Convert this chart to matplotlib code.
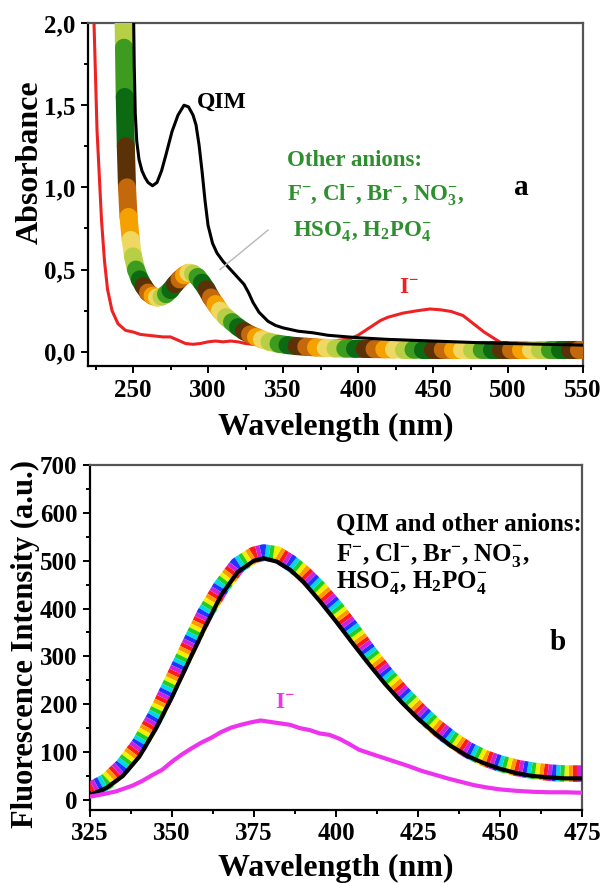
import matplotlib
matplotlib.use("Agg")
from matplotlib import pyplot as plt
from matplotlib.collections import LineCollection
from matplotlib.ticker import MultipleLocator, FixedLocator, FixedFormatter

# %% absorbance spectra (panel a)
qim_abs_x = [250.3, 250.8, 251.5, 252.5, 254, 256, 258, 260, 263, 266, 269, 272, 276, 280,
             284, 287, 290, 292, 294, 296, 298, 300, 303, 306, 310, 315, 320, 324, 327,
             330, 334, 340, 345, 350, 360, 370, 380, 400, 420, 450, 480, 500, 550]
qim_abs_y = [2.10, 1.75, 1.45, 1.28, 1.17, 1.10, 1.06, 1.03, 1.01, 1.03, 1.10, 1.20, 1.34, 1.44,
             1.50, 1.49, 1.44, 1.38, 1.26, 1.10, 0.92, 0.77, 0.66, 0.60, 0.55, 0.50, 0.45, 0.41, 0.36,
             0.30, 0.24, 0.185, 0.16, 0.145, 0.125, 0.115, 0.10, 0.085, 0.075, 0.065, 0.055, 0.05, 0.04]

iodide_abs_x = [222, 224, 226, 229, 231, 233, 236, 240, 245, 250, 255, 260, 265, 270, 275,
                280, 285, 290, 295, 300, 305, 310, 315, 320, 325, 330, 340, 360, 380, 395,
                400, 405, 410, 415, 420, 430, 440, 448, 455, 462, 470, 477, 484, 490, 496,
                500, 520, 550]
iodide_abs_y = [2.6, 2.0, 1.35, 0.80, 0.55, 0.38, 0.25, 0.17, 0.13, 0.12, 0.105, 0.10, 0.095,
                0.09, 0.09, 0.07, 0.05, 0.045, 0.05, 0.06, 0.065, 0.06, 0.065, 0.06, 0.05, 0.045,
                0.045, 0.05, 0.06, 0.08, 0.10, 0.13, 0.16, 0.19, 0.21, 0.235, 0.25, 0.26, 0.255,
                0.245, 0.22, 0.17, 0.12, 0.085, 0.05, 0.035, 0.03, 0.03]

# the six other anions overlap into one thick band
others_abs_x = [243.5, 244, 244.5, 245.2, 246, 247, 248.5, 250,
                252, 254.5, 257, 260, 263, 266, 269, 272, 275, 278, 281, 284, 287, 290, 293,
                296, 299, 302, 305, 308,
                312, 316, 320, 324, 328, 332, 336, 341, 347, 353,
                359, 365.5, 372, 378.5, 385, 391.5, 398, 404.5, 411, 417.5, 424, 430.5, 437,
                443.5, 450, 456.5, 463, 469.5, 476, 482.5, 489, 495.5, 502, 508.5, 515, 521.5,
                528, 534.5, 541, 547.5, 554]
others_abs_y = [2.15, 1.85, 1.55, 1.25, 1.00, 0.82, 0.68, 0.58,
                0.50, 0.44, 0.40, 0.36, 0.34, 0.33, 0.335, 0.35, 0.375, 0.41, 0.44, 0.465, 0.48,
                0.475, 0.455, 0.42, 0.38, 0.33, 0.29, 0.25,
                0.21, 0.18, 0.15, 0.125, 0.105, 0.09, 0.075, 0.06, 0.048, 0.04,
                0.034, 0.030, 0.026, 0.023, 0.020, 0.019, 0.018, 0.017, 0.016, 0.015,
                0.014, 0.013, 0.013, 0.012, 0.012, 0.012, 0.011, 0.011, 0.011, 0.011,
                0.010, 0.010, 0.010, 0.010, 0.010, 0.010, 0.010, 0.010, 0.010, 0.010, 0.010]
others_abs_colors = ['#b7cf45', '#3d9b1f', '#0c6b12', '#5b3108', '#c4690b', '#f5a200', '#efd862']

abs_yticks = [0.0, 0.5, 1.0, 1.5, 2.0]
abs_yticklabels = ['0,0', '0,5', '1,0', '1,5', '2,0']

# %% fluorescence spectra (panel b)
fl_x = [325, 330, 335, 340, 345, 350, 355, 360, 365, 370, 375, 378, 382, 386, 390, 395, 400,
        405, 410, 415, 420, 425, 430, 435, 440, 445, 450, 455, 460, 465, 470, 475]
others_fl_y = [20, 38, 70, 115, 175, 246, 318, 388, 445, 490, 512, 517, 513, 496, 474, 440, 400,
               355, 308, 264, 224, 188, 155, 128, 105, 88, 76, 67, 61, 57, 55, 55]
qim_fl_y = [10, 25, 50, 90, 148, 215, 288, 360, 428, 476, 500, 505, 498, 481, 456, 416, 373,
            328, 284, 242, 204, 170, 140, 113, 92, 77, 65, 56, 50, 47, 45, 45]

iodide_fl_x = [325, 329, 333, 338, 341, 344, 347, 350, 353, 356, 359, 362, 365, 368, 371, 374,
               377, 380, 383, 386, 389, 392, 395, 398, 401, 404, 407, 410, 414, 418, 422, 426,
               430, 434, 438, 442, 446, 450, 455, 460, 465, 470, 475]
iodide_fl_y = [7, 12, 18, 30, 40, 52, 63, 80, 95, 108, 120, 130, 142, 151, 157, 162,
               166, 163, 160, 157, 150, 146, 139, 136, 128, 117, 105, 98, 89, 80, 71, 61,
               53, 45, 38, 31, 26, 22, 19, 17, 16, 16, 15]
others_fl_colors = ['#ff1a1a', '#ff9900', '#f2f200', '#22cc22', '#00d8e6', '#2233ff', '#cc22dd']

# %% plot
plt.rcParams.update({
    "font.family": "Liberation Serif",
    "font.weight": "bold",
    "axes.labelweight": "bold",
    "mathtext.fontset": "custom",
    "mathtext.rm": "Liberation Serif:bold",
    "mathtext.bf": "Liberation Serif:bold",
    "mathtext.it": "Liberation Serif:italic:bold",
    "lines.scale_dashes": False,
    "axes.linewidth": 1.6,
})
fig = plt.figure(figsize=(6.02, 8.83), dpi=100)
ax_a = fig.add_axes([0.1462, 0.5855, 0.8223, 0.3884])
ax_b = fig.add_axes([0.1495, 0.0827, 0.8173, 0.3907])

# panel a
ax_a.plot(iodide_abs_x, iodide_abs_y, color='#ee2222', lw=2.2, zorder=2)
pts = list(zip(others_abs_x, others_abs_y))
segs = [[pts[i], pts[i + 1]] for i in range(len(pts) - 1)]
seg_colors = [others_abs_colors[i % len(others_abs_colors)] for i in range(len(segs))]
band = LineCollection(segs, colors=seg_colors, linewidths=13, capstyle='round', zorder=3)
ax_a.add_collection(band)
ax_a.plot(qim_abs_x, qim_abs_y, color='black', lw=2.2, zorder=4)
ax_a.plot([308, 340], [0.50, 0.74], color='#b8b8b8', lw=1.0, zorder=4)

green = '#2e8f2e'
ax_a.text(326, 1.52, 'QIM', fontsize=17, va='center', ha='right')
ax_a.text(352.5, 1.165, 'Other anions:', fontsize=16.5, color=green, va='center')
ax_a.text(352.5, 0.953, r'F$^{-}$, Cl$^{-}$, Br$^{-}$, NO$_{3}^{-}$,', fontsize=16.5,
          color=green, va='center')
ax_a.text(356.5, 0.728, r'HSO$_{4}^{-}$, H$_{2}$PO$_{4}^{-}$', fontsize=16.5, color=green,
          va='center')
ax_a.text(434, 0.39, r'I$^{-}$', fontsize=17, color='#ee2222', va='center', ha='center')
ax_a.text(509, 1.0, 'a', fontsize=21, va='center', ha='center')

ax_a.set_xlim(220, 550)
ax_a.set_ylim(-0.087, 2.0)
ax_a.xaxis.set_major_locator(MultipleLocator(50))
ax_a.xaxis.set_minor_locator(MultipleLocator(25))
ax_a.yaxis.set_major_locator(FixedLocator(abs_yticks))
ax_a.yaxis.set_major_formatter(FixedFormatter(abs_yticklabels))
ax_a.yaxis.set_minor_locator(MultipleLocator(0.25))
ax_a.set_xlabel('Wavelength (nm)', fontsize=23, labelpad=8)
ax_a.set_ylabel('Absorbance', fontsize=23)
ax_a.yaxis.set_label_coords(-0.088, 0.595)

# panel b
seg_b = 3.0
n_b = len(others_fl_colors)
for k, c in enumerate(others_fl_colors):
    ax_b.plot(fl_x, others_fl_y, color=c, lw=12, dash_capstyle='butt',
              linestyle=(k * seg_b, (seg_b, (n_b - 1) * seg_b)), zorder=3)
ax_b.plot(fl_x, qim_fl_y, color='black', lw=3.0, zorder=4)
ax_b.plot(iodide_fl_x, iodide_fl_y, color='#ee33ee', lw=3.0, zorder=4)

ax_b.text(400, 577, 'QIM and other anions:', fontsize=18, va='center')
ax_b.text(400, 512, r'F$^{-}$, Cl$^{-}$, Br$^{-}$, NO$_{3}^{-}$,', fontsize=18, va='center')
ax_b.text(400, 454, r'HSO$_{4}^{-}$, H$_{2}$PO$_{4}^{-}$', fontsize=18, va='center')
ax_b.text(384.5, 203, r'I$^{-}$', fontsize=17, color='#ee33ee', va='center', ha='center')
ax_b.text(467.5, 330, 'b', fontsize=21, va='center', ha='center')

ax_b.set_xlim(325, 475)
ax_b.set_ylim(-21, 700)
ax_b.xaxis.set_major_locator(MultipleLocator(25))
ax_b.xaxis.set_minor_locator(MultipleLocator(12.5))
ax_b.yaxis.set_major_locator(MultipleLocator(100))
ax_b.yaxis.set_minor_locator(MultipleLocator(50))
ax_b.set_xlabel('Wavelength (nm)', fontsize=23, labelpad=6)
ax_b.set_ylabel('Fluorescence Intensity (a.u.)', fontsize=22)
ax_b.yaxis.set_label_coords(-0.102, 0.48)

for ax in (ax_a, ax_b):
    ax.tick_params(which='both', direction='out', top=False, right=False,
                   labelsize=18, width=1.4)
    ax.tick_params(which='major', length=5, pad=4)
    ax.tick_params(which='minor', length=3)
    for lbl in ax.get_xticklabels() + ax.get_yticklabels():
        lbl.set_fontweight('bold')
    for side in ('top', 'right'):
        ax.spines[side].set_color('#555555')

fig.savefig('out.png', dpi=100)
